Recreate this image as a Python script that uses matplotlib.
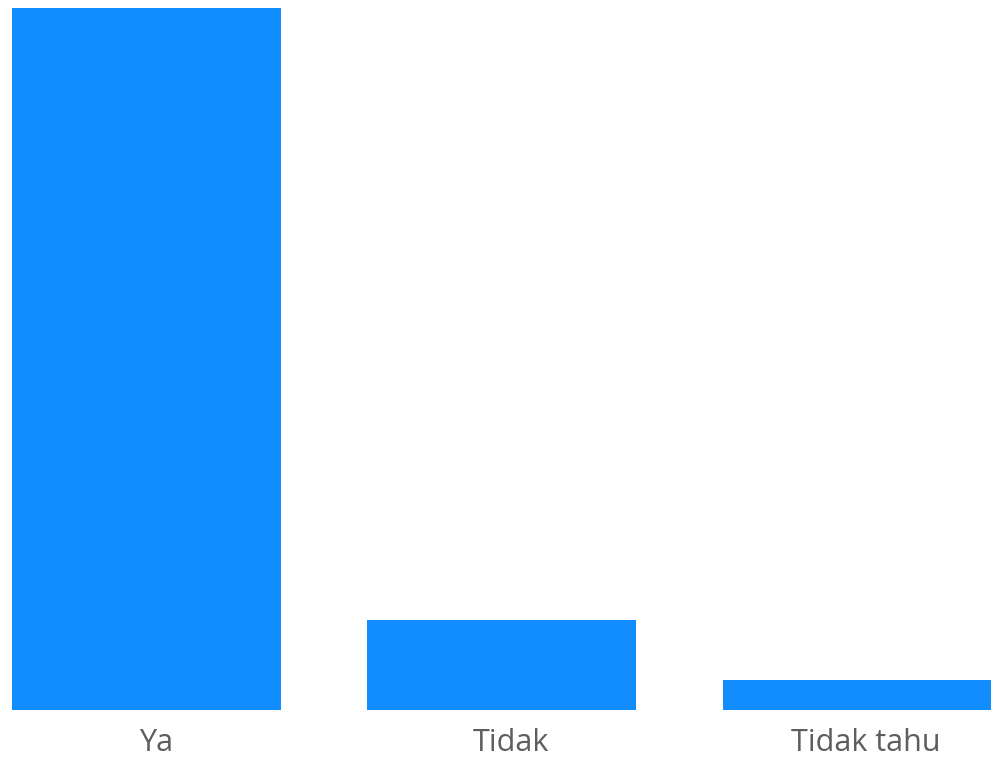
import matplotlib
matplotlib.use("Agg")
import matplotlib.pyplot as plt
import matplotlib.transforms as mtransforms

categories = ["Ya", "Tidak", "Tidak tahu"]
values = [164, 21, 7]

bar_color = "#118DFF"
label_color = "#605E5C"

fig = plt.figure(figsize=(9.92, 7.57), dpi=100)
# axes fill the width, leave room at bottom for the category labels
ax = fig.add_axes([0, 47 / 757, 1, 710 / 757])

ax.bar(range(len(categories)), values, width=0.757, color=bar_color)

ax.set_xlim(-0.4127, 2.380)
ax.set_ylim(0, 164 * 710 / 702)
ax.set_xticks(range(len(categories)))
ax.set_xticklabels(categories, fontsize=22, color=label_color, family="Open Sans")
ax.tick_params(axis="x", length=0, pad=13)
# labels sit a little right of the bar centres in the original
shift = mtransforms.ScaledTranslation(9 / 100, 0, fig.dpi_scale_trans)
for lbl in ax.get_xticklabels():
    lbl.set_transform(lbl.get_transform() + shift)
ax.set_yticks([])
for s in ax.spines.values():
    s.set_visible(False)

fig.savefig("out.png", dpi=100)
